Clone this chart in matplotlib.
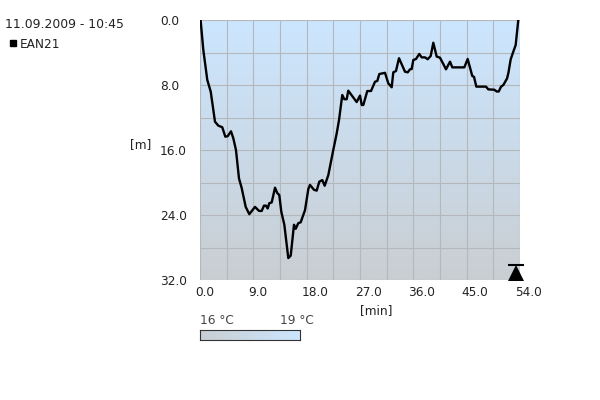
import numpy as np
import matplotlib
matplotlib.use("Agg")
import matplotlib.pyplot as plt
from matplotlib.colors import LinearSegmentedColormap
from matplotlib.transforms import ScaledTranslation

minutes = [0.1,0.56,1.23,1.81,2.53,3.09,3.76,4.27,4.67,5.23,5.62,6.07,6.58,7.04,7.71,8.32,9.28,9.96,10.41,10.8,11.14,11.42,11.69,12.1,12.66,13.04,13.38,13.72,14.23,14.9,15.31,15.86,16.15,16.59,16.99,17.72,18.28,18.56,19.24,19.69,20.13,20.64,21.04,21.65,22.49,23.07,23.46,24.01,24.35,24.76,25.02,26.44,27.0,27.29,27.56,28.23,28.86,29.53,29.92,30.26,31.22,31.78,32.35,32.62,33.07,33.58,34.59,35.05,35.44,35.72,36.0,36.45,37.0,37.41,37.97,38.42,38.93,39.37,39.94,40.5,41.06,41.51,42.19,42.58,44.6,45.17,45.95,46.24,46.63,48.26,48.65,49.66,50.07,50.41,50.8,51.19,51.81,52.03,52.43,52.87,53.27,53.71]
depth = [0.0,3.69,7.38,8.82,12.52,13.0,13.2,14.36,14.3,13.7,14.55,16.0,19.5,20.7,23.0,23.9,23.0,23.5,23.5,22.85,22.85,23.2,22.55,22.45,20.64,21.3,21.54,23.6,25.2,29.3,29.0,25.2,25.7,25.0,24.9,23.4,20.8,20.3,20.9,21.0,19.9,19.7,20.4,19.1,16.0,13.95,12.3,9.23,9.75,9.75,8.7,10.1,9.3,10.46,10.46,8.74,8.74,7.6,7.5,6.65,6.5,7.8,8.28,6.44,6.28,4.7,6.36,6.44,6.07,6.03,4.92,4.8,4.18,4.6,4.6,4.83,4.43,2.8,4.5,4.64,5.42,6.07,5.13,5.83,5.83,4.8,6.9,7.0,8.2,8.2,8.54,8.58,8.8,8.8,8.2,8.0,7.2,6.56,4.84,3.9,3.08,0.0]
x_labels = ["0.0","9.0","18.0","27.0","36.0","45.0","54.0"]
x_ticks = [0,9,18,27,36,45,54]
y_labels = ["0.0","8.0","16.0","24.0","32.0"]
y_ticks = [0,8,16,24,32]
x_grid = [4.5*i for i in range(13)]
y_grid = [4*i for i in range(9)]
surface_time = 53.3
max_depth = 32
title = "11.09.2009 - 10:45"
dive_name = "EAN21"
temp_labels = ["16 °C","19 °C"]

plt.rcParams['font.family'] = ['DejaVu Sans']
TXT = "#222222"
FS = 8.7
fig = plt.figure(figsize=(6,4), dpi=100, facecolor="white")
ax = fig.add_axes([200/600, 1-280/400, 320/600, 260/400])
cmap = LinearSegmentedColormap.from_list("t", ["#cce6ff","#c9ced2"])
ax.imshow(np.linspace(0,1,256).reshape(-1,1), cmap=cmap, aspect="auto",
          extent=[0,54,32,0], zorder=0)
ax.set_xlim(0,54); ax.set_ylim(32,0)
for v in x_grid:
    ax.axvline(v, color="#b4b8bb", lw=0.8, zorder=1)
for v in y_grid:
    ax.axhline(v, color="#b4b8bb", lw=0.8, zorder=1)
for s in ax.spines.values():
    s.set_visible(False)
ax.plot(minutes, depth, color="black", lw=1.7, zorder=3, clip_on=True, solid_joinstyle="round")
ax.set_xticks(x_ticks); ax.set_xticklabels(x_labels, ha="left", color=TXT, fontsize=FS)
ax.set_yticks(y_ticks); ax.set_yticklabels(y_labels, ha="left", color=TXT, fontsize=FS)
ax.tick_params(length=0)
ax.tick_params(axis="x", pad=4)
ax.tick_params(axis="y", pad=28.8)
off = ScaledTranslation(-5/100, 0, fig.dpi_scale_trans)
for t in ax.get_xticklabels():
    t.set_transform(t.get_transform()+off)
ax.plot([surface_time],[max_depth], marker="^", ms=11.5, color="black", clip_on=False, zorder=5,
        markeredgewidth=0, transform=ax.transData+ScaledTranslation(0,7/100,fig.dpi_scale_trans))
ax.plot([surface_time],[max_depth], marker="_", ms=11.5, mew=1.5, color="black", clip_on=False, zorder=5,
        transform=ax.transData+ScaledTranslation(0,15/100,fig.dpi_scale_trans))

fig.text(5/600, 1-24/400, title, fontsize=8.9, color=TXT, va="center", ha="left")
fig.text(20/600, 1-44/400, dive_name, fontsize=FS, color=TXT, va="center", ha="left")
fig.patches.append(plt.Rectangle((10/600,1-46/400),6/600,6/400,transform=fig.transFigure,color="black"))
fig.text(140.5/600, 1-145/400, "[m]", fontsize=FS, color=TXT, va="center", ha="center")
fig.text(376/600, 1-311/400, "[min]", fontsize=FS, color=TXT, va="center", ha="center")

cax = fig.add_axes([200/600, 1-340/400, 100/600, 10/400])
cmap2 = LinearSegmentedColormap.from_list("t2", ["#c9ced2","#cce6ff"])
cax.imshow(np.linspace(0,1,256).reshape(1,-1), cmap=cmap2, aspect="auto")
cax.set_xticks([]); cax.set_yticks([])
for s in cax.spines.values():
    s.set_linewidth(0.8); s.set_color("#333333")
fig.text(200/600, 1-321/400, temp_labels[0], fontsize=FS, color="#444444", va="center", ha="left")
fig.text(314/600, 1-321/400, temp_labels[1], fontsize=FS, color="#444444", va="center", ha="right")
fig.savefig("out.png", dpi=100)
